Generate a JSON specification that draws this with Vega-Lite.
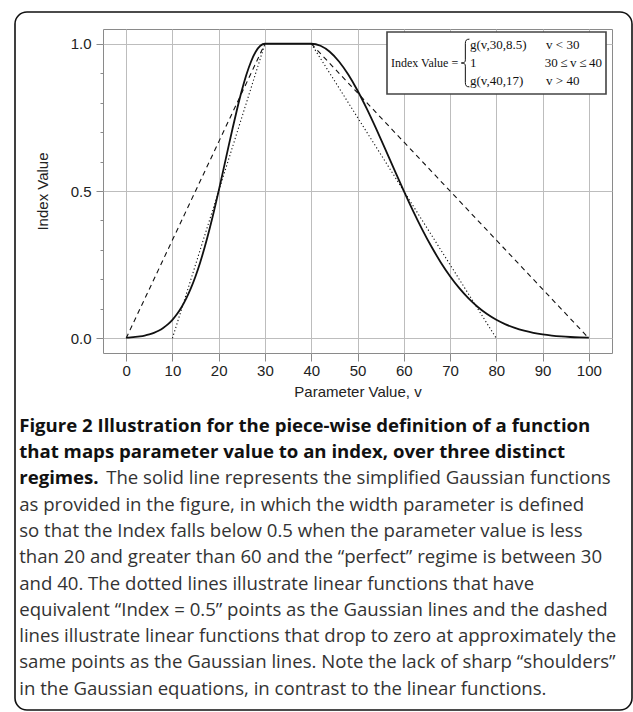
{
  "$schema": "https://vega.github.io/schema/vega-lite/v6.json",
  "width": 509,
  "height": 324,
  "padding": {"left": 14, "top": 11, "right": 0, "bottom": 0},
  "background": "white",
  "config": {
    "view": {"stroke": "#8a8a8a", "strokeWidth": 1},
    "legend": {"strokeWidth": 1.6}
  },
  "datasets": {
    "gauss": [
      {"v": 0, "index": 0.00197}, {"v": 1, "index": 0.00297}, {"v": 2, "index": 0.0044}, {"v": 3, "index": 0.00644},
      {"v": 4, "index": 0.0093}, {"v": 5, "index": 0.01323}, {"v": 6, "index": 0.01858}, {"v": 7, "index": 0.02571},
      {"v": 8, "index": 0.03511}, {"v": 9, "index": 0.04728}, {"v": 10, "index": 0.06278}, {"v": 11, "index": 0.08224},
      {"v": 12, "index": 0.10622}, {"v": 13, "index": 0.13534}, {"v": 14, "index": 0.17006}, {"v": 15, "index": 0.21075},
      {"v": 16, "index": 0.25758}, {"v": 17, "index": 0.3105}, {"v": 18, "index": 0.36915}, {"v": 19, "index": 0.43283},
      {"v": 20, "index": 0.50056}, {"v": 21, "index": 0.57091}, {"v": 22, "index": 0.64218}, {"v": 23, "index": 0.7124},
      {"v": 24, "index": 0.77947}, {"v": 25, "index": 0.84113}, {"v": 26, "index": 0.89519}, {"v": 27, "index": 0.93962},
      {"v": 28, "index": 0.9727}, {"v": 29, "index": 0.9931}, {"v": 30, "index": 1},
      {"v": 40, "index": 1}, {"v": 42, "index": 0.9931}, {"v": 44, "index": 0.9727}, {"v": 46, "index": 0.93962},
      {"v": 48, "index": 0.89519}, {"v": 50, "index": 0.84113}, {"v": 52, "index": 0.77947}, {"v": 54, "index": 0.7124},
      {"v": 56, "index": 0.64218}, {"v": 58, "index": 0.57091}, {"v": 60, "index": 0.50056}, {"v": 62, "index": 0.43283},
      {"v": 64, "index": 0.36915}, {"v": 66, "index": 0.3105}, {"v": 68, "index": 0.25758}, {"v": 70, "index": 0.21075},
      {"v": 72, "index": 0.17006}, {"v": 74, "index": 0.13534}, {"v": 76, "index": 0.10622}, {"v": 78, "index": 0.08224},
      {"v": 80, "index": 0.06278}, {"v": 82, "index": 0.04728}, {"v": 84, "index": 0.03511}, {"v": 86, "index": 0.02571},
      {"v": 88, "index": 0.01858}, {"v": 90, "index": 0.01323}, {"v": 92, "index": 0.0093}, {"v": 94, "index": 0.00644},
      {"v": 96, "index": 0.0044}, {"v": 98, "index": 0.00297}, {"v": 100, "index": 0.00197}
    ],
    "linear": [
      {"v": 10, "index": 0, "line": "dotted", "seg": "dotted-left"},
      {"v": 30, "index": 1, "line": "dotted", "seg": "dotted-left"},
      {"v": 40, "index": 1, "line": "dotted", "seg": "dotted-right"},
      {"v": 80, "index": 0, "line": "dotted", "seg": "dotted-right"},
      {"v": 0, "index": 0, "line": "dashed", "seg": "dashed-left"},
      {"v": 30, "index": 1, "line": "dashed", "seg": "dashed-left"},
      {"v": 40, "index": 1, "line": "dashed", "seg": "dashed-right"},
      {"v": 100, "index": 0, "line": "dashed", "seg": "dashed-right"}
    ],
    "eq": [
      {"k": 0, "eq": "g(v,30,8.5)\u00a0\u00a0\u00a0\u00a0\u00a0\u00a0v < 30"},
      {"k": 1, "eq": "1\u00a0\u00a0\u00a0\u00a0\u00a0\u00a0\u00a0\u00a0\u00a0\u00a0\u00a0\u00a0\u00a0\u00a0\u00a0\u00a0\u00a0\u00a0\u00a0\u00a0\u00a030\u2009\u2264\u2009v\u2009\u2264\u200940"},
      {"k": 2, "eq": "g(v,40,17)\u00a0\u00a0\u00a0\u00a0\u00a0\u00a0\u00a0v > 40"}
    ]
  },
  "title": {
    "text": [
      "Figure 2 Illustration for the piece-wise definition of a function",
      "that maps parameter value to an index, over three distinct",
      "regimes."
    ],
    "subtitle": [
      "\u200b\u00a0\u00a0\u00a0\u00a0\u00a0\u00a0\u00a0\u00a0\u00a0\u00a0\u00a0\u00a0\u00a0\u00a0\u00a0\u00a0\u00a0\u00a0The solid line represents the simplified Gaussian functions",
      "as provided in the figure, in which the width parameter is defined",
      "so that the Index falls below 0.5 when the parameter value is less",
      "than 20 and greater than 60 and the \u201cperfect\u201d regime is between 30",
      "and 40. The dotted lines illustrate linear functions that have",
      "equivalent \u201cIndex = 0.5\u201d points as the Gaussian lines and the dashed",
      "lines illustrate linear functions that drop to zero at approximately the",
      "same points as the Gaussian lines. Note the lack of sharp \u201cshoulders\u201d",
      "in the Gaussian equations, in contrast to the linear functions."
    ],
    "orient": "bottom",
    "anchor": "start",
    "frame": "bounds",
    "offset": -294,
    "dx": 5,
    "font": "Open Sans",
    "fontSize": 18.6,
    "fontWeight": "bold",
    "color": "#111111",
    "lineHeight": 26.3,
    "subtitleFont": "Open Sans",
    "subtitleFontSize": 18.6,
    "subtitleFontWeight": "normal",
    "subtitleColor": "#333333",
    "subtitleLineHeight": 26.3,
    "subtitlePadding": -18.6
  },
  "encoding": {
    "x": {
      "field": "v", "type": "quantitative",
      "scale": {"domain": [-5, 105], "nice": false, "zero": false},
      "axis": {
        "values": [0, 10, 20, 30, 40, 50, 60, 70, 80, 90, 100],
        "grid": true, "gridColor": "#bdbdbd", "gridWidth": 1,
        "domain": false, "tickSize": 8, "tickColor": "#8a8a8a",
        "labelFont": "Liberation Sans", "labelFontSize": 15, "labelColor": "#222222", "labelPadding": 2,
        "title": "Parameter Value,  v", "titleFont": "Liberation Sans", "titleFontSize": 15,
        "titleFontWeight": "normal", "titleColor": "#222222", "titlePadding": 6
      }
    },
    "y": {
      "field": "index", "type": "quantitative",
      "scale": {"domain": [-0.05, 1.05], "nice": false, "zero": false},
      "axis": {
        "values": [0, 0.1, 0.2, 0.3, 0.4, 0.5, 0.6, 0.7, 0.8, 0.9, 1],
        "format": ".1f",
        "labelOverlap": false,
        "labelExpr": "abs(datum.value * 2 - round(datum.value * 2)) < 0.001 ? datum.label : ''",
        "grid": true, "gridColor": "#bdbdbd", "gridWidth": 1,
        "gridOpacity": {"condition": {"test": "abs(datum.value * 2 - round(datum.value * 2)) < 0.001", "value": 1}, "value": 0},
        "tickSize": {"condition": {"test": "abs(datum.value * 2 - round(datum.value * 2)) < 0.001", "value": 7}, "value": 3},
        "domain": false, "tickColor": "#8a8a8a",
        "labelFont": "Liberation Sans", "labelFontSize": 15, "labelColor": "#222222", "labelPadding": 5,
        "title": "Index Value", "titleFont": "Liberation Sans", "titleFontSize": 15,
        "titleFontWeight": "normal", "titleColor": "#222222", "titlePadding": 20
      }
    }
  },
  "layer": [
    {
      "data": {"name": "gauss"},
      "mark": {"type": "line", "interpolate": "monotone", "color": "#111111", "strokeWidth": 1.8}
    },
    {
      "data": {"name": "linear"},
      "mark": {"type": "line", "color": "#111111", "strokeWidth": 1.1},
      "encoding": {
        "strokeDash": {
          "field": "line", "type": "nominal",
          "scale": {"domain": ["dotted", "dashed"], "range": [[1.2, 2.4], [5, 4]]},
          "legend": null
        },
        "detail": {"field": "seg"}
      }
    },
    {
      "data": {"name": "eq"},
      "mark": {"type": "point", "opacity": 0},
      "encoding": {
        "color": {
          "field": "k", "type": "quantitative",
          "scale": {"domain": [0, 2]},
          "legend": {
            "type": "gradient", "orient": "none", "legendX": -88, "legendY": -17,
            "direction": "vertical", "title": null,
            "gradientLength": 698, "gradientThickness": 617, "gradientOpacity": 0,
            "gradientStrokeWidth": 0, "labelExpr": "''", "labelOffset": 0,
            "padding": 0, "strokeColor": "#111111", "cornerRadius": 12
          }
        },
        "shape": {
          "field": "eq", "type": "nominal",
          "scale": {
            "domain": [
              "g(v,30,8.5)\u00a0\u00a0\u00a0\u00a0\u00a0\u00a0v < 30",
              "1\u00a0\u00a0\u00a0\u00a0\u00a0\u00a0\u00a0\u00a0\u00a0\u00a0\u00a0\u00a0\u00a0\u00a0\u00a0\u00a0\u00a0\u00a0\u00a0\u00a0\u00a030\u2009\u2264\u2009v\u2009\u2264\u200940",
              "g(v,40,17)\u00a0\u00a0\u00a0\u00a0\u00a0\u00a0\u00a0v > 40"
            ],
            "range": [
              "M0.1,-0.65C-0.25,-0.65 -0.35,-0.5 -0.35,-0.15L-0.35,1",
              "M-0.35,-1L-0.35,-0.35C-0.35,-0.1 -0.45,0 -0.8,0C-0.45,0 -0.35,0.1 -0.35,0.35L-0.35,1",
              "M-0.35,-1L-0.35,0.15C-0.35,0.5 -0.25,0.65 0.1,0.65"
            ]
          },
          "legend": {
            "type": "symbol", "orient": "none", "legendX": 284, "legendY": 3,
            "title": "Index Value =", "titleOrient": "left", "titleAnchor": "middle", "titleBaseline": "middle",
            "titleFont": "Liberation Serif", "titleFontSize": 12, "titleFontWeight": "normal", "titleColor": "#111111",
            "titlePadding": 0,
            "labelFont": "Liberation Serif", "labelFontSize": 13, "labelColor": "#111111",
            "labelOffset": -8, "labelLimit": 300,
            "symbolSize": 324, "symbolStrokeColor": "#111111", "symbolFillColor": "transparent",
            "symbolStrokeWidth": 1, "symbolOpacity": 1,
            "clipHeight": 18,
            "rowPadding": 0, "padding": 4,
            "strokeColor": "#444444", "fillColor": "white"
          }
        }
      }
    }
  ]
}
